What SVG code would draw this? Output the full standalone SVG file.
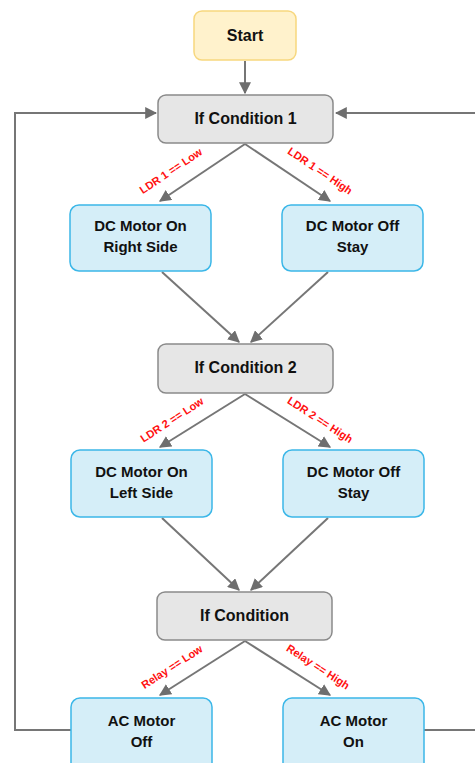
<svg xmlns="http://www.w3.org/2000/svg" width="475" height="763" viewBox="0 0 475 763">
<style>
.start{fill:#FFF2CC;stroke:#F7D77E;stroke-width:1.5}
.cond{fill:#E6E6E6;stroke:#8A8A8A;stroke-width:1.5}
.act{fill:#D5EEF8;stroke:#3BB7E8;stroke-width:1.5}
.t{font-family:"Liberation Sans",Arial,sans-serif;font-weight:bold;font-size:16px;fill:#111;text-anchor:middle}
.a{font-family:"Liberation Sans",Arial,sans-serif;font-weight:bold;font-size:15px;fill:#111;text-anchor:middle}
.lbl{font-family:"Liberation Sans",Arial,sans-serif;font-weight:bold;font-size:11px;fill:#FF1010;text-anchor:middle}
.c{fill:none;stroke:#767676;stroke-width:2}
</style>
<defs>
<marker id="ah" viewBox="0 0 10 10" refX="9" refY="5" markerWidth="6" markerHeight="6" orient="auto" markerUnits="strokeWidth">
<path d="M0,0 L10,5 L0,10 z" fill="#6E6E6E"/>
</marker>
</defs>
<g id="connectors">
<path class="c" d="M245,61 L245,93" marker-end="url(#ah)"/>
<path class="c" d="M245,144 L160,201" marker-end="url(#ah)"/>
<path class="c" d="M245,144 L330,201" marker-end="url(#ah)"/>
<path class="c" d="M162,272 L239,342" marker-end="url(#ah)"/>
<path class="c" d="M328,272 L251,342" marker-end="url(#ah)"/>
<path class="c" d="M245,394 L160,447" marker-end="url(#ah)"/>
<path class="c" d="M245,394 L330,447" marker-end="url(#ah)"/>
<path class="c" d="M162,518 L239,590" marker-end="url(#ah)"/>
<path class="c" d="M328,518 L251,590" marker-end="url(#ah)"/>
<path class="c" d="M245,641 L160,695" marker-end="url(#ah)"/>
<path class="c" d="M245,641 L330,695" marker-end="url(#ah)"/>
<path class="c" d="M71,730 L15,730 L15,113 L156,113" marker-end="url(#ah)"/>
<path class="c" d="M424,730 L476,730"/>
<path class="c" d="M476,113 L336,113" marker-end="url(#ah)"/>
<text class="lbl" transform="translate(173,174) rotate(-34)">LDR 1 == Low</text>
<text class="lbl" transform="translate(318,174) rotate(34)">LDR 1 == High</text>
<text class="lbl" transform="translate(174,423) rotate(-33)">LDR 2 == Low</text>
<text class="lbl" transform="translate(318,423) rotate(33)">LDR 2 == High</text>
<text class="lbl" transform="translate(174,670) rotate(-33)">Relay == Low</text>
<text class="lbl" transform="translate(316,670) rotate(33)">Relay == High</text>
</g>
<g id="start"><rect class="start" x="194" y="11" width="102" height="49" rx="8"/><text class="t" x="245" y="41">Start</text></g>
<g id="cond1"><rect class="cond" x="158" y="95" width="175" height="48" rx="8"/><text class="t" x="245.5" y="124">If Condition 1</text></g>
<g id="dc-on-right"><rect class="act" x="70" y="205" width="141" height="66" rx="9"/><text class="a" x="140.5" y="231">DC Motor On</text><text class="a" x="140.5" y="252">Right Side</text></g>
<g id="dc-off-1"><rect class="act" x="282" y="205" width="141" height="66" rx="9"/><text class="a" x="352.5" y="231">DC Motor Off</text><text class="a" x="352.5" y="252">Stay</text></g>
<g id="cond2"><rect class="cond" x="158" y="344" width="175" height="49" rx="8"/><text class="t" x="245.5" y="373">If Condition 2</text></g>
<g id="dc-on-left"><rect class="act" x="71" y="450" width="141" height="67" rx="9"/><text class="a" x="141.5" y="477">DC Motor On</text><text class="a" x="141.5" y="498">Left Side</text></g>
<g id="dc-off-2"><rect class="act" x="283" y="450" width="141" height="67" rx="9"/><text class="a" x="353.5" y="477">DC Motor Off</text><text class="a" x="353.5" y="498">Stay</text></g>
<g id="cond3"><rect class="cond" x="157" y="592" width="175" height="48" rx="8"/><text class="t" x="244.5" y="621">If Condition</text></g>
<g id="ac-off"><rect class="act" x="71" y="698" width="141" height="75" rx="9"/><text class="a" x="141.5" y="726">AC Motor</text><text class="a" x="141.5" y="747">Off</text></g>
<g id="ac-on"><rect class="act" x="283" y="698" width="141" height="75" rx="9"/><text class="a" x="353.5" y="726">AC Motor</text><text class="a" x="353.5" y="747">On</text></g>
</svg>
